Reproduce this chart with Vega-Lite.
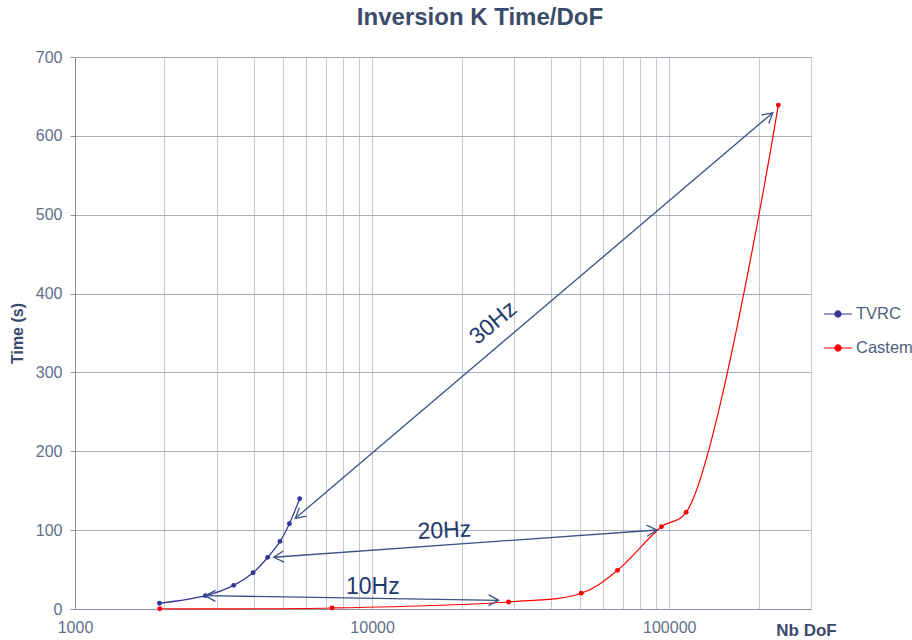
{
  "$schema": "https://vega.github.io/schema/vega-lite/v6.json",
  "width": 736,
  "height": 552,
  "autosize": {"type": "none"},
  "padding": {"left": 75, "top": 57, "right": 101, "bottom": 31},
  "background": "white",
  "config": {
    "font": "Liberation Sans",
    "view": {"stroke": "#B4B9C4", "strokeWidth": 1}
  },
  "title": {
    "text": "Inversion K Time/DoF",
    "fontSize": 24,
    "fontWeight": "bold",
    "color": "#3B4B6B",
    "anchor": "middle",
    "dx": 37,
    "offset": 19,
    "font": "Liberation Sans"
  },
  "datasets": {
    "series": [
      {"series": "TVRC", "dof": 1925, "time": 7.2},
      {"series": "TVRC", "dof": 2748, "time": 16.9},
      {"series": "TVRC", "dof": 3420, "time": 30},
      {"series": "TVRC", "dof": 3975, "time": 46},
      {"series": "TVRC", "dof": 4452, "time": 65.5},
      {"series": "TVRC", "dof": 4898, "time": 85.8},
      {"series": "TVRC", "dof": 5267, "time": 108.2},
      {"series": "TVRC", "dof": 5703, "time": 139.9},
      {"series": "Castem", "dof": 1929, "time": 0.3},
      {"series": "Castem", "dof": 7330, "time": 1.3},
      {"series": "Castem", "dof": 28780, "time": 8.9},
      {"series": "Castem", "dof": 50540, "time": 19.9},
      {"series": "Castem", "dof": 66940, "time": 49},
      {"series": "Castem", "dof": 94150, "time": 104.4},
      {"series": "Castem", "dof": 114000, "time": 122.6},
      {"series": "Castem", "dof": 232900, "time": 639}
    ],
    "arrows": [
      {"label": "10Hz", "x1": 2748, "y1": 16.9, "x2": 26650, "y2": 11.0, "lx": 10055, "ly": 27.9},
      {"label": "20Hz", "x1": 4665, "y1": 65.6, "x2": 90850, "y2": 100.2, "lx": 17500, "ly": 99.3},
      {"label": "30Hz", "x1": 5516, "y1": 115, "x2": 223100, "y2": 629.3, "lx": 25570, "ly": 362.7}
    ]
  },
  "layer": [
    {
      "data": {"name": "series"},
      "mark": {
        "type": "line",
        "interpolate": "catmull-rom",
        "strokeWidth": 1.2,
        "point": {"filled": true, "size": 24, "opacity": 1}
      },
      "encoding": {
        "x": {
          "field": "dof",
          "type": "quantitative",
          "title": "Nb DoF",
          "scale": {"type": "log", "domain": [1000, 300000], "nice": false},
          "axis": {
            "values": [1000, 2000, 3000, 4000, 5000, 6000, 7000, 8000, 9000, 10000, 20000, 30000, 40000, 50000, 60000, 70000, 80000, 90000, 100000, 200000, 300000],
            "labelExpr": "(datum.value == 1000 || datum.value == 10000 || datum.value == 100000) ? format(datum.value, 'd') : ''",
            "labelOverlap": false,
            "labelFlush": false,
            "grid": true,
            "gridColor": "#C5C9D2",
            "gridWidth": 1,
            "ticks": false,
            "tickSize": 0,
            "domainColor": "#8A93A5",
            "labelPadding": 10,
            "labelFontSize": 16,
            "labelColor": "#5F6F88",
            "titleFontSize": 17,
            "titleFontWeight": "bold",
            "titleColor": "#3B4B6B",
            "titleX": 731,
            "titleY": 21,
            "titleBaseline": "middle",
            "titleAlign": "center"
          }
        },
        "y": {
          "field": "time",
          "type": "quantitative",
          "title": "Time (s)",
          "scale": {"domain": [0, 700], "nice": false},
          "axis": {
            "values": [0, 100, 200, 300, 400, 500, 600, 700],
            "grid": true,
            "gridColor": "#A8AEBA",
            "domainColor": "#8A93A5",
            "tickColor": "#8A93A5",
            "tickSize": 5,
            "labelPadding": 8,
            "labelFontSize": 16,
            "labelColor": "#5F6F88",
            "titleFontSize": 16,
            "titleFontWeight": "bold",
            "titleColor": "#3B4B6B",
            "titleX": -58,
            "titleY": 276,
            "titleAngle": -90,
            "titleBaseline": "middle",
            "titleAlign": "center"
          }
        },
        "color": {
          "field": "series",
          "type": "nominal",
          "scale": {"domain": ["TVRC", "Castem"], "range": ["#333399", "#FF0000"]},
          "legend": {
            "title": null,
            "orient": "none",
            "legendX": 748,
            "legendY": 242,
            "padding": 0,
            "symbolType": "M-1,0L1,0M-0.22,0A0.22,0.22,0,1,1,0.22,0A0.22,0.22,0,1,1,-0.22,0",
            "symbolSize": 784,
            "symbolStrokeWidth": 1.2,
            "labelFontSize": 16.5,
            "labelColor": "#50607C",
            "labelOffset": 3,
            "rowPadding": 10,
            "encode": {
              "symbols": {
                "update": {
                  "fill": {"scale": "color", "field": "value"},
                  "stroke": {"scale": "color", "field": "value"},
                  "opacity": {"value": 1}
                }
              }
            }
          }
        }
      }
    },
    {
      "data": {"name": "arrows"},
      "mark": {"type": "rule", "color": "#3A5282", "strokeWidth": 1.3},
      "encoding": {
        "x": {"field": "x1", "type": "quantitative", "title": "Nb DoF"},
        "y": {"field": "y1", "type": "quantitative", "title": "Time (s)"},
        "x2": {"field": "x2"},
        "y2": {"field": "y2"}
      }
    },
    {
      "data": {"name": "arrows"},
      "transform": [{"filter": "datum.label == '10Hz'"}],
      "mark": {"type": "point", "shape": "M-1,-0.55L0,0L-1,0.55", "size": 400, "filled": false, "color": "#3A5282", "strokeWidth": 1.3, "opacity": 1, "angle": 0.9},
      "encoding": {
        "x": {"field": "x2", "type": "quantitative", "title": "Nb DoF"},
        "y": {"field": "y2", "type": "quantitative", "title": "Time (s)"}
      }
    },
    {
      "data": {"name": "arrows"},
      "transform": [{"filter": "datum.label == '10Hz'"}],
      "mark": {"type": "point", "shape": "M-1,-0.55L0,0L-1,0.55", "size": 400, "filled": false, "color": "#3A5282", "strokeWidth": 1.3, "opacity": 1, "angle": 180.9},
      "encoding": {
        "x": {"field": "x1", "type": "quantitative", "title": "Nb DoF"},
        "y": {"field": "y1", "type": "quantitative", "title": "Time (s)"}
      }
    },
    {
      "data": {"name": "arrows"},
      "transform": [{"filter": "datum.label == '20Hz'"}],
      "mark": {"type": "point", "shape": "M-1,-0.55L0,0L-1,0.55", "size": 400, "filled": false, "color": "#3A5282", "strokeWidth": 1.3, "opacity": 1, "angle": -4.1},
      "encoding": {
        "x": {"field": "x2", "type": "quantitative", "title": "Nb DoF"},
        "y": {"field": "y2", "type": "quantitative", "title": "Time (s)"}
      }
    },
    {
      "data": {"name": "arrows"},
      "transform": [{"filter": "datum.label == '20Hz'"}],
      "mark": {"type": "point", "shape": "M-1,-0.55L0,0L-1,0.55", "size": 400, "filled": false, "color": "#3A5282", "strokeWidth": 1.3, "opacity": 1, "angle": 175.9},
      "encoding": {
        "x": {"field": "x1", "type": "quantitative", "title": "Nb DoF"},
        "y": {"field": "y1", "type": "quantitative", "title": "Time (s)"}
      }
    },
    {
      "data": {"name": "arrows"},
      "transform": [{"filter": "datum.label == '30Hz'"}],
      "mark": {"type": "point", "shape": "M-1,-0.55L0,0L-1,0.55", "size": 400, "filled": false, "color": "#3A5282", "strokeWidth": 1.3, "opacity": 1, "angle": -40.3},
      "encoding": {
        "x": {"field": "x2", "type": "quantitative", "title": "Nb DoF"},
        "y": {"field": "y2", "type": "quantitative", "title": "Time (s)"}
      }
    },
    {
      "data": {"name": "arrows"},
      "transform": [{"filter": "datum.label == '30Hz'"}],
      "mark": {"type": "point", "shape": "M-1,-0.55L0,0L-1,0.55", "size": 400, "filled": false, "color": "#3A5282", "strokeWidth": 1.3, "opacity": 1, "angle": 139.7},
      "encoding": {
        "x": {"field": "x1", "type": "quantitative", "title": "Nb DoF"},
        "y": {"field": "y1", "type": "quantitative", "title": "Time (s)"}
      }
    },
    {
      "data": {"name": "arrows"},
      "transform": [{"filter": "datum.label == '10Hz'"}],
      "mark": {"type": "text", "fontSize": 23, "color": "#1F3A6E", "align": "center", "baseline": "middle", "angle": 0},
      "encoding": {
        "x": {"field": "lx", "type": "quantitative", "title": "Nb DoF"},
        "y": {"field": "ly", "type": "quantitative", "title": "Time (s)"},
        "text": {"field": "label"}
      }
    },
    {
      "data": {"name": "arrows"},
      "transform": [{"filter": "datum.label == '20Hz'"}],
      "mark": {"type": "text", "fontSize": 23, "color": "#1F3A6E", "align": "center", "baseline": "middle", "angle": -3},
      "encoding": {
        "x": {"field": "lx", "type": "quantitative", "title": "Nb DoF"},
        "y": {"field": "ly", "type": "quantitative", "title": "Time (s)"},
        "text": {"field": "label"}
      }
    },
    {
      "data": {"name": "arrows"},
      "transform": [{"filter": "datum.label == '30Hz'"}],
      "mark": {"type": "text", "fontSize": 23, "color": "#1F3A6E", "align": "center", "baseline": "middle", "angle": -40},
      "encoding": {
        "x": {"field": "lx", "type": "quantitative", "title": "Nb DoF"},
        "y": {"field": "ly", "type": "quantitative", "title": "Time (s)"},
        "text": {"field": "label"}
      }
    }
  ]
}
